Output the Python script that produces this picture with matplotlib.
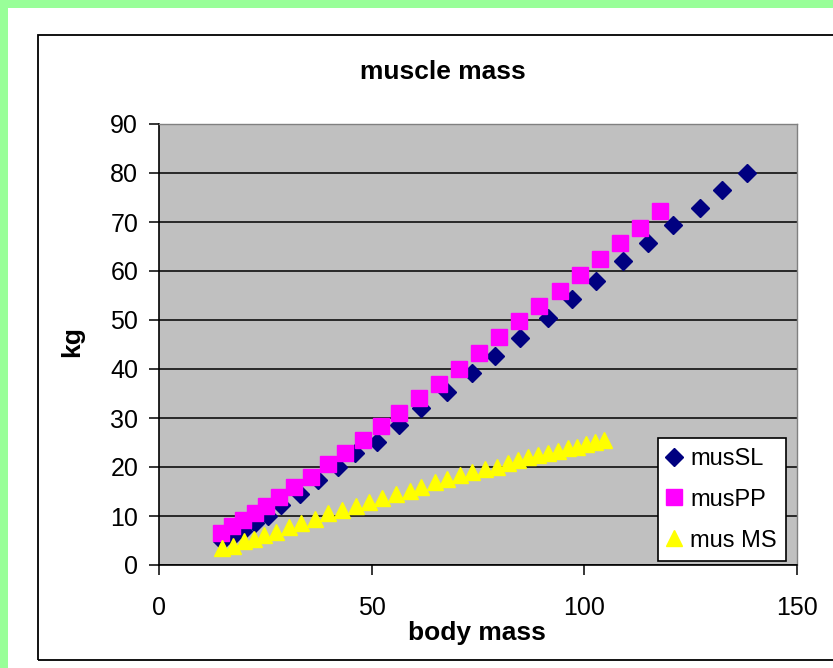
import matplotlib
matplotlib.use('Agg')
import matplotlib.pyplot as plt
from matplotlib.patches import Rectangle

# body mass (kg) and estimated muscle mass (kg) for each method
body_sl = [14.7, 17.1, 19.7, 22.5, 25.6, 28.8, 33.1, 37.4, 42.1, 46.1, 51.2, 56.5, 61.5,
           67.6, 73.5, 79.0, 84.8, 91.4, 97.0, 102.8, 109.2, 114.9, 120.8, 127.2, 132.4, 138.3]
mus_sl = [4.9, 5.7, 6.9, 8.5, 10.1, 12.2, 14.5, 17.3, 19.9, 22.8, 25.2, 28.5, 32.1,
          35.4, 39.1, 42.7, 46.4, 50.5, 54.2, 57.9, 62.0, 65.7, 69.3, 72.9, 76.5, 80.1]

body_pp = [14.5, 17.2, 19.8, 22.5, 25.1, 28.3, 31.8, 35.7, 39.7, 43.8, 48.0, 52.1, 56.4,
           61.1, 65.8, 70.6, 75.3, 80.0, 84.7, 89.4, 94.3, 99.0, 103.7, 108.4, 113.1, 117.7]
mus_pp = [6.5, 8.0, 9.2, 10.6, 12.0, 13.9, 15.9, 18.0, 20.6, 22.9, 25.5, 28.4, 31.1,
          34.1, 36.9, 40.1, 43.3, 46.5, 49.7, 52.9, 56.0, 59.2, 62.5, 65.7, 68.8, 72.3]

body_ms = [14.7, 17.4, 20.0, 22.3, 24.8, 27.6, 30.5, 33.5, 36.6, 39.7, 43.1, 46.4, 49.4,
           52.5, 55.8, 59.0, 61.7, 64.8, 67.6, 70.7, 73.5, 76.6, 79.4, 82.1, 84.4, 86.8,
           89.2, 91.5, 93.9, 96.2, 98.2, 100.5, 102.5, 104.6]
mus_ms = [3.4, 3.9, 5.0, 5.4, 6.1, 6.8, 7.8, 8.5, 9.3, 10.6, 11.2, 12.0, 12.9,
          13.6, 14.5, 15.2, 16.0, 16.9, 17.5, 18.4, 19.0, 19.5, 20.1, 20.9, 21.4, 22.0,
          22.4, 22.8, 23.3, 23.8, 24.1, 24.7, 25.2, 25.5]

series_labels = ['musSL', 'musPP', 'mus MS']
x_ticks = [0, 50, 100, 150]
y_ticks = list(range(0, 91, 10))

plt.rcParams['font.family'] = ['Liberation Sans', 'DejaVu Sans']

W, H = 833, 668


def fx(px):
    return px / W


def fy(py):
    return 1 - py / H


fig = plt.figure(figsize=(W / 100, H / 100), dpi=100)
fig.patch.set_facecolor('#99ff99')

# white sheet and the chart border
fig.patches.append(Rectangle((fx(8), 0), 1, fy(8), transform=fig.transFigure,
                             facecolor='white', edgecolor='none', zorder=-3))
fig.patches.append(Rectangle((fx(38), fy(660)), 1, fy(35) - fy(660), transform=fig.transFigure,
                             facecolor='none', edgecolor='black', lw=1.3, zorder=-2))

ax = fig.add_axes([fx(159), fy(565), fx(797) - fx(159), fy(124) - fy(565)])
ax.set_facecolor('#c0c0c0')
ax.set_xlim(0, 150)
ax.set_ylim(0, 90)
ax.set_xticks(x_ticks)
ax.set_yticks(y_ticks)
ax.yaxis.grid(True, color='black', lw=1.1)
ax.set_axisbelow(True)

for side in ['left', 'bottom']:
    ax.spines[side].set_color('black')
    ax.spines[side].set_linewidth(1.2)
for side in ['top', 'right']:
    ax.spines[side].set_color('#808080')
    ax.spines[side].set_linewidth(1.0)

ax.tick_params(direction='out', length=7, width=1.1, labelsize=18, colors='black')
ax.tick_params(axis='x', pad=15)
ax.tick_params(axis='y', pad=8)

ax.plot(body_sl, mus_sl, 'D', color='#000080', ms=9, ls='none', label=series_labels[0])
ax.plot(body_pp, mus_pp, 's', color='#ff00ff', ms=11, ls='none', label=series_labels[1])
ax.plot(body_ms, mus_ms, '^', color='#ffff00', ms=11, ls='none', label=series_labels[2])

leg = ax.legend(loc='lower right', bbox_to_anchor=(0.983, 0.009), borderaxespad=0,
                fontsize=17, fancybox=False, framealpha=1, edgecolor='black',
                handlelength=0.5, handletextpad=0.45, labelspacing=0.8, borderpad=0.4)
leg.get_frame().set_linewidth(1.2)

fig.text(fx(443), fy(72), 'muscle mass', ha='center', va='center', fontsize=19, fontweight='bold')
fig.text(fx(477), fy(633), 'body mass', ha='center', va='center', fontsize=19, fontweight='bold')
fig.text(fx(72), fy(342), 'kg', ha='center', va='center', fontsize=19, fontweight='bold',
         rotation=90)

fig.savefig('out.png', dpi=100, facecolor=fig.get_facecolor())
